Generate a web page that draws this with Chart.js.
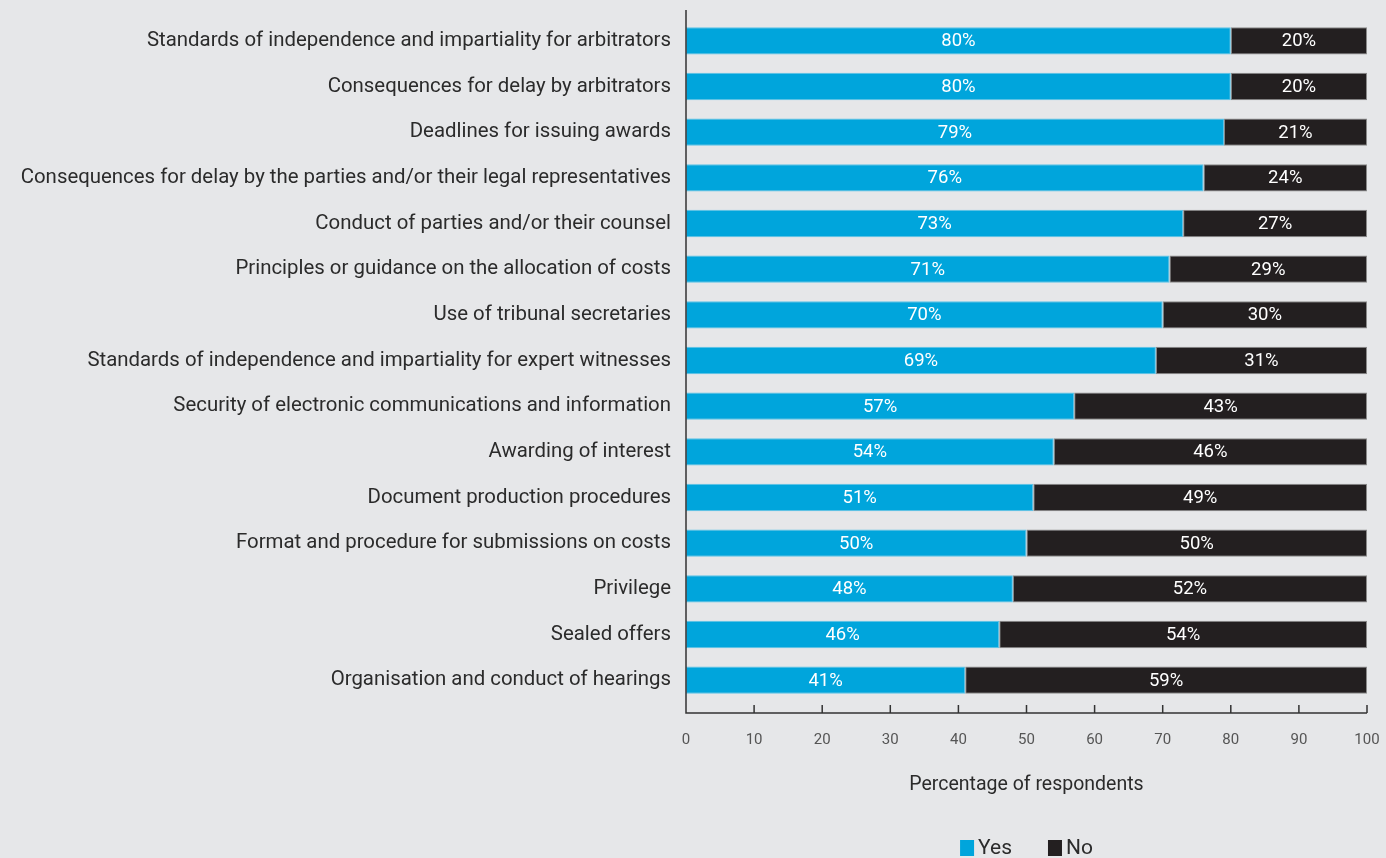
<!DOCTYPE html>
<html>
<head>
<meta charset="utf-8">
<script src="https://cdn.jsdelivr.net/npm/chart.js@4/dist/chart.umd.min.js"></script>
<style>
    html, body { margin: 0; padding: 0; background: #e6e7e9; }
    #wrap { width: 1386px; height: 858px; }
</style>
</head>
<body>
<div id="wrap"><canvas id="grafico"></canvas></div>
<script>
const categories = [
    'Standards of independence and impartiality for arbitrators',
    'Consequences for delay by arbitrators',
    'Deadlines for issuing awards',
    'Consequences for delay by the parties and/or their legal representatives',
    'Conduct of parties and/or their counsel',
    'Principles or guidance on the allocation of costs',
    'Use of tribunal secretaries',
    'Standards of independence and impartiality for expert witnesses',
    'Security of electronic communications and information',
    'Awarding of interest',
    'Document production procedures',
    'Format and procedure for submissions on costs',
    'Privilege',
    'Sealed offers',
    'Organisation and conduct of hearings'
];
const yesValues = [80, 80, 79, 76, 73, 71, 70, 69, 57, 54, 51, 50, 48, 46, 41];
const noValues = [20, 20, 21, 24, 27, 29, 30, 31, 43, 46, 49, 50, 52, 54, 59];
const xTicks = [0, 10, 20, 30, 40, 50, 60, 70, 80, 90, 100];

const FONT = 'Roboto, "Liberation Sans", sans-serif';

// etiquetas dentro de las barras
const barLabels = {
    id: 'barLabels',
    afterDatasetsDraw(chart) {
        const ctx = chart.ctx;
        ctx.save();
        ctx.fillStyle = '#ffffff';
        ctx.font = '18.5px ' + FONT;
        ctx.textAlign = 'center';
        ctx.textBaseline = 'middle';
        chart.data.datasets.forEach((ds, i) => {
            chart.getDatasetMeta(i).data.forEach((bar, j) => {
                const p = bar.getProps(['x', 'y', 'base'], true);
                ctx.fillText(ds.data[j] + '%', (p.x + p.base) / 2, p.y + 1);
            });
        });
        ctx.restore();
    }
};

// ejes con marcas hacia adentro
const axisLines = {
    id: 'axisLines',
    afterDatasetsDraw(chart) {
        const ctx = chart.ctx;
        const area = chart.chartArea;
        const xs = chart.scales.x;
        const yBase = area.bottom + 10;
        ctx.save();
        ctx.strokeStyle = '#333333';
        ctx.lineWidth = 1.5;
        ctx.beginPath();
        ctx.moveTo(area.left, area.top - 8);
        ctx.lineTo(area.left, yBase);
        ctx.lineTo(area.right, yBase);
        xTicks.forEach(t => {
            const px = xs.getPixelForValue(t);
            ctx.moveTo(px, yBase);
            ctx.lineTo(px, yBase - 8);
        });
        ctx.stroke();
        ctx.restore();
    }
};

// leyenda centrada sobre el area del grafico
const bottomLegend = {
    id: 'bottomLegend',
    afterDraw(chart) {
        const ctx = chart.ctx;
        const area = chart.chartArea;
        ctx.save();
        ctx.font = '21px ' + FONT;
        ctx.textBaseline = 'middle';
        const box = 14, gap = 4, spacing = 36;
        const items = chart.data.datasets.map(ds => ({
            text: ds.label, color: ds.backgroundColor, w: box + gap + ctx.measureText(ds.label).width
        }));
        const total = items.reduce((s, it) => s + it.w, 0) + spacing * (items.length - 1);
        let x = (area.left + area.right) / 2 - total / 2;
        const y = 848;
        items.forEach(it => {
            ctx.fillStyle = it.color;
            ctx.fillRect(x, y - 8, box, 16);
            ctx.fillStyle = '#2b2b2b';
            ctx.fillText(it.text, x + box + gap, y + 1);
            x += it.w + spacing;
        });
        ctx.restore();
    }
};

const ctx = document.getElementById('grafico').getContext('2d');
new Chart(ctx, {
    type: 'bar',
    data: {
        labels: categories,
        datasets: [{
            label: 'Yes',
            data: yesValues,
            backgroundColor: '#00a5dc',
            borderColor: '#5cc3e8',
            borderWidth: 1,
            borderSkipped: false
        }, {
            label: 'No',
            data: noValues,
            backgroundColor: '#231f20',
            borderColor: '#8a8a8a',
            borderWidth: 1,
            borderSkipped: false
        }]
    },
    options: {
        indexAxis: 'y',
        responsive: true,
        maintainAspectRatio: false,
        animation: false,
        barPercentage: 0.6,
        categoryPercentage: 1,
        layout: { padding: { top: 18, right: 19, bottom: 61, left: 0 } },
        plugins: {
            legend: { display: false },
            tooltip: { enabled: false }
        },
        scales: {
            x: {
                stacked: true,
                min: 0,
                max: 100,
                grid: { display: false },
                border: { display: false },
                afterFit: s => { s.height = 94; s.paddingLeft = 0; s.paddingRight = 0; },
                ticks: {
                    stepSize: 10,
                    padding: 20,
                    color: '#555555',
                    font: { family: FONT, size: 15 }
                },
                title: {
                    display: true,
                    text: 'Percentage of respondents',
                    color: '#2b2b2b',
                    font: { family: FONT, size: 19.5 },
                    padding: { top: 14, bottom: 0 }
                }
            },
            y: {
                stacked: true,
                grid: { display: false },
                border: { display: false },
                afterFit: s => { s.width = 686; s.paddingTop = 0; s.paddingBottom = 0; },
                ticks: {
                    padding: 7,
                    autoSkip: false,
                    color: '#2b2b2b',
                    font: { family: FONT, size: 20.4 }
                }
            }
        }
    },
    plugins: [barLabels, axisLines, bottomLegend]
});
</script>
</body>
</html>
